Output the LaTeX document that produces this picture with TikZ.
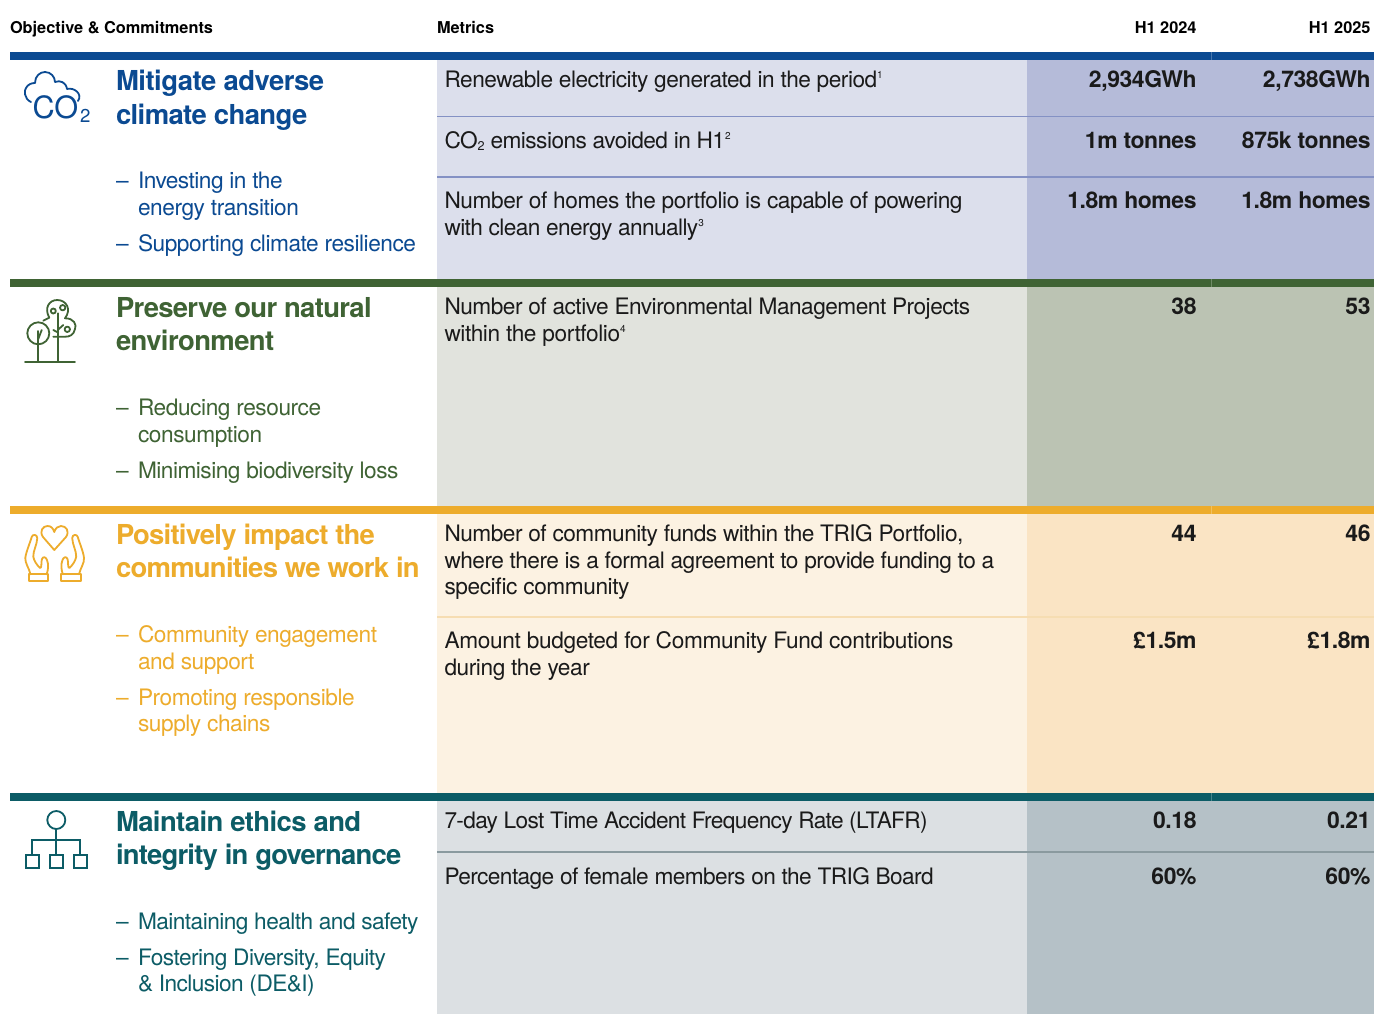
\documentclass[tikz,border=0pt]{standalone}
\usepackage{fontspec}
\setmainfont{TeX Gyre Heros}
\newfontfamily\bodyf[LetterSpace=-1.9]{TeX Gyre Heros}
\newfontfamily\boldf[LetterSpace=-2.2]{TeX Gyre Heros Bold}
\newfontfamily\valf[LetterSpace=-1.8]{TeX Gyre Heros Bold}
\newcommand{\ls}[1]{\addfontfeature{LetterSpace=#1}}
\definecolor{cblue}{HTML}{0B4A92}\definecolor{cgreen}{HTML}{3F6334}
\definecolor{camber}{HTML}{EDAC2C}\definecolor{cteal}{HTML}{0C5C66}
\definecolor{bluel}{HTML}{DCDFEC}\definecolor{blued}{HTML}{B5BBD9}\definecolor{bluesep}{HTML}{8491C4}
\definecolor{greenl}{HTML}{E1E3DD}\definecolor{greend}{HTML}{BBC3B3}
\definecolor{amberl}{HTML}{FCF2E2}\definecolor{amberd}{HTML}{FAE4C4}\definecolor{ambersep}{HTML}{F6DDB2}
\definecolor{tealsl}{HTML}{DCE0E3}\definecolor{teald}{HTML}{B5C1C7}\definecolor{tealsep}{HTML}{8A9A9F}
\definecolor{ink}{HTML}{1A1A1A}
\newcommand{\sbs}[1]{\raisebox{-1.6pt}{\fontsize{9.5}{10}\selectfont #1}}
\newcommand{\sps}[1]{\raisebox{6.4pt}{\fontsize{7.5}{8}\selectfont #1}}
\tikzset{
 x=0.75pt,y=-0.75pt,
 every node/.style={inner sep=0pt,outer sep=0pt},
 head/.style={anchor=base west,text=black,font=\fontsize{12.25}{14}\selectfont\bfseries},
 headr/.style={anchor=base east,text=black,font=\fontsize{12.25}{14}\selectfont\bfseries},
 titl/.style={anchor=base west,font=\fontsize{20.6}{25}\boldf},
 item/.style={anchor=base west,font=\fontsize{17}{20}\bodyf},
 metric/.style={anchor=base west,text=ink,font=\fontsize{17}{20}\bodyf},
 val/.style={anchor=base east,text=ink,font=\fontsize{17.2}{20}\valf},
 icon/.style={line width=1.35pt,line cap=round,line join=round,fill=none},
}
\begin{document}
\begin{tikzpicture}
\useasboundingbox (0,0) rectangle (1374,1014);
\fill[white] (0,0) rectangle (1374,1014);
% panels
\fill[bluel] (437,52) rectangle (1027,279);\fill[blued] (1027,52) rectangle (1374,279);
\fill[greenl] (437,279) rectangle (1027,506);\fill[greend] (1027,279) rectangle (1374,506);
\fill[amberl] (437,506) rectangle (1027,793);\fill[amberd] (1027,506) rectangle (1374,793);
\fill[tealsl] (437,793) rectangle (1027,1014);\fill[teald] (1027,793) rectangle (1374,1014);
% bars
\fill[cblue] (10,52.3) rectangle (1374,60);
\fill[cgreen] (10,279) rectangle (1374,287);
\fill[camber] (10,506) rectangle (1374,514);
\fill[cteal] (10,793) rectangle (1374,801);
% separators
\draw[bluesep,line width=0.8pt] (437,116.5) -- (1374,116.5);
\draw[bluesep,line width=0.8pt] (437,177) -- (1374,177);
\draw[ambersep,line width=0.8pt] (437,617) -- (1374,617);
\draw[tealsep,line width=0.8pt] (437,852) -- (1374,852);
% faint column joins in the bars
\foreach \ya/\yb in {52.3/60,279/287,506/514,793/801}
  \draw[white,opacity=0.25,line width=0.3pt] (1211,\ya) -- (1211,\yb);
% header
\node[head] (h1) at (10,33) {Objective \& Commitments};
\node[head] (h2) at (437,33) {Metrics};
\node[headr] (h3) at (1196.5,33) {H1 2024};
\node[headr] (h4) at (1370.5,33) {H1 2025};
% section 1
\node[titl,text=cblue] (t1a) at (116,90) {\ls{-1.75}Mitigate adverse};
\node[titl,text=cblue] (t1b) at (116,124) {climate change};
\node[item,text=cblue] (d1a) at (116,188) {–};
\node[item,text=cblue] (i1a) at (138,188) {\ls{-2.3}Investing in the};
\node[item,text=cblue] (i1b) at (138,215) {energy transition};
\node[item,text=cblue] (d1c) at (116,251) {–};
\node[item,text=cblue] (i1c) at (138,251) {\ls{-2}Supporting climate resilience};
\node[metric] (m1) at (444.5,87) {\ls{-2.2}Renewable electricity generated in the period\sps{1}};
\node[metric] (m2) at (444.5,148) {\ls{-2.4}CO\sbs{2} emissions avoided in H1\sps{2}};
\node[metric] (m3a) at (444.5,208) {Number of homes the portfolio is capable of powering};
\node[metric] (m3b) at (444.5,235) {\ls{-2.6}with clean energy annually\sps{3}};
\node[val] (v1a) at (1196.5,87) {2,934GWh};\node[val] (v1b) at (1370.5,87) {2,738GWh};
\node[val] (v2a) at (1196.5,148) {1m tonnes};\node[val] (v2b) at (1370.5,148) {875k tonnes};
\node[val] (v3a) at (1196.5,208) {1.8m homes};\node[val] (v3b) at (1370.5,208) {1.8m homes};
% section 2
\node[titl,text=cgreen] (t2a) at (116,317) {\ls{-2.55}Preserve our natural};
\node[titl,text=cgreen] (t2b) at (116,350) {environment};
\node[item,text=cgreen] (d2a) at (116,415) {–};
\node[item,text=cgreen] (i2a) at (138,415) {Reducing resource};
\node[item,text=cgreen] (i2b) at (138,442) {consumption};
\node[item,text=cgreen] (d2c) at (116,478) {–};
\node[item,text=cgreen] (i2c) at (138,478) {\ls{-2.2}Minimising biodiversity loss};
\node[metric] (m4a) at (444.5,314) {\ls{-2.25}Number of active Environmental Management Projects};
\node[metric] (m4b) at (444.5,341) {within the portfolio\sps{4}};
\node[val] (v4a) at (1196.5,314) {38};\node[val] (v4b) at (1370.5,314) {53};
% section 3
\node[titl,text=camber] (t3a) at (116,544) {\ls{-2.75}Positively impact the};
\node[titl,text=camber] (t3b) at (116,577) {\ls{-2.7}communities we work in};
\node[item,text=camber] (d3a) at (116,642) {–};
\node[item,text=camber] (i3a) at (138,642) {Community engagement};
\node[item,text=camber] (i3b) at (138,669) {and support};
\node[item,text=camber] (d3c) at (116,705) {–};
\node[item,text=camber] (i3c) at (138,705) {Promoting responsible};
\node[item,text=camber] (i3d) at (138,731) {supply chains};
\node[metric] (m5a) at (444.5,541) {\ls{-2.25}Number of community funds within the TRIG Portfolio,};
\node[metric] (m5b) at (444.5,568) {\ls{-2.3}where there is a formal agreement to provide funding to a};
\node[metric] (m5c) at (444.5,594) {specific community};
\node[metric] (m6a) at (444.5,648) {\ls{-1.55}Amount budgeted for Community Fund contributions};
\node[metric] (m6b) at (444.5,675) {during the year};
\node[val] (v5a) at (1196.5,541) {44};\node[val] (v5b) at (1370.5,541) {46};
\node[val] (v6a) at (1196.5,648) {£1.5m};\node[val] (v6b) at (1370.5,648) {£1.8m};
% section 4
\node[titl,text=cteal] (t4a) at (116,831) {Maintain ethics and};
\node[titl,text=cteal] (t4b) at (116,864) {\ls{-2.85}integrity in governance};
\node[item,text=cteal] (d4a) at (116,929) {–};
\node[item,text=cteal] (i4a) at (138,929) {\ls{-2.4}Maintaining health and safety};
\node[item,text=cteal] (d4b) at (116,965) {–};
\node[item,text=cteal] (i4b) at (138,965) {\ls{-2.3}Fostering Diversity, Equity};
\node[item,text=cteal] (i4c) at (138,991) {\ls{-2.5}\& Inclusion (DE\&I)};
\node[metric] (m7) at (444.5,828) {\ls{-2.9}7-day Lost Time Accident Frequency Rate (LTAFR)};
\node[metric] (m8) at (444.5,884) {\ls{-2.6}Percentage of female members on the TRIG Board};
\node[val] (v7a) at (1196.5,828) {0.18};\node[val] (v7b) at (1370.5,828) {0.21};
\node[val] (v8a) at (1196.5,884) {60\%};\node[val] (v8b) at (1370.5,884) {60\%};
% icon 1: cloud
\draw[icon,cblue] (31,102) .. controls (24,99) and (24,90) .. (26,88) .. controls (28,84) and (32,83) .. (35,83)
  .. controls (35,76) and (40,72) .. (45,72) .. controls (51,72) and (55,77) .. (55,82)
  .. controls (60,80) and (66,82) .. (67,89) .. controls (74,87) and (83,94) .. (78,101);
\node[anchor=base west,text=cblue,font=\fontsize{23}{24}\selectfont] (co) at (32.5,118.5) {CO};
\node[anchor=base west,text=cblue,font=\fontsize{14}{14}\selectfont] (co2) at (80,122) {2};
% icon 2: trees
\begin{scope}[icon,cgreen]
\draw (25,361.7) -- (75,361.7);
\draw (38.3,333.3) circle[radius=11];
\draw (38.3,331) -- (38.3,361.7);
\draw (38.3,339) -- (41.7,330);
\draw (57.7,313.3) -- (57.7,361.7);
\draw (43.3,320.7) -- (49.3,317.7) .. controls (44,308) and (49,300) .. (57.3,300)
  .. controls (66,300) and (72,309) .. (65,318.3) .. controls (74,318) and (77,325) .. (75,329)
  .. controls (74,335) and (69,337) .. (65,336.7) -- (53.3,336.7);
\draw (53.3,311) circle[radius=2.5];
\draw (62.7,307.7) circle[radius=2.7];
\draw (67.3,329.3) circle[radius=2.7];
\draw (57.7,330) -- (63.3,325);
\draw (53.3,330) -- (57.7,332.3);
\end{scope}
% icon 3: hands
\begin{scope}[icon,camber]
\draw (54.3,550) -- (43,537) .. controls (39,531) and (43,526) .. (47.5,526) .. controls (51,526) and (53,528) .. (54.3,532)
  .. controls (55.5,528) and (58,526) .. (61,526) .. controls (66,526) and (70,531) .. (66,537) -- cycle;
\draw (29,574.3) rectangle (48.3,580.7);
\draw (60.7,574.3) rectangle (80.7,580.7);
\draw (30.5,574.3) .. controls (29,568) and (25,563) .. (25.3,558) .. controls (26,552) and (30,543) .. (31.7,537)
  .. controls (32.5,534) and (37,534) .. (37.3,538) .. controls (37,545) and (33,551) .. (33.3,556.7)
  .. controls (34,561) and (37,565) .. (40,568) .. controls (42,569) and (41,561) .. (42,559)
  .. controls (43,556) and (46,557) .. (47,560) .. controls (49,565) and (48,570) .. (46.7,574.3);
\draw (79,574.3) .. controls (80.5,568) and (84.5,563) .. (84,558) .. controls (83.5,552) and (79.5,543) .. (77.8,537)
  .. controls (77,534) and (72.5,534) .. (72.2,538) .. controls (72.5,545) and (76.5,551) .. (76.2,556.7)
  .. controls (75.5,561) and (72.5,565) .. (69.5,568) .. controls (67.5,569) and (68.5,561) .. (67.5,559)
  .. controls (66.5,556) and (63.5,557) .. (62.5,560) .. controls (60.5,565) and (61.5,570) .. (62.8,574.3);
\end{scope}
% icon 4: org
\begin{scope}[icon,cteal,line cap=butt,line join=miter]
\draw (56.3,820) circle[radius=9];
\draw (56.3,829) -- (56.3,855);
\draw (32.3,855) -- (32.3,840) -- (80.3,840) -- (80.3,855);
\draw (26,855) rectangle (39.3,868.3);
\draw (50,855) rectangle (63.3,868.3);
\draw (74,855) rectangle (87.3,868.3);
\end{scope}
\end{tikzpicture}
\end{document}
